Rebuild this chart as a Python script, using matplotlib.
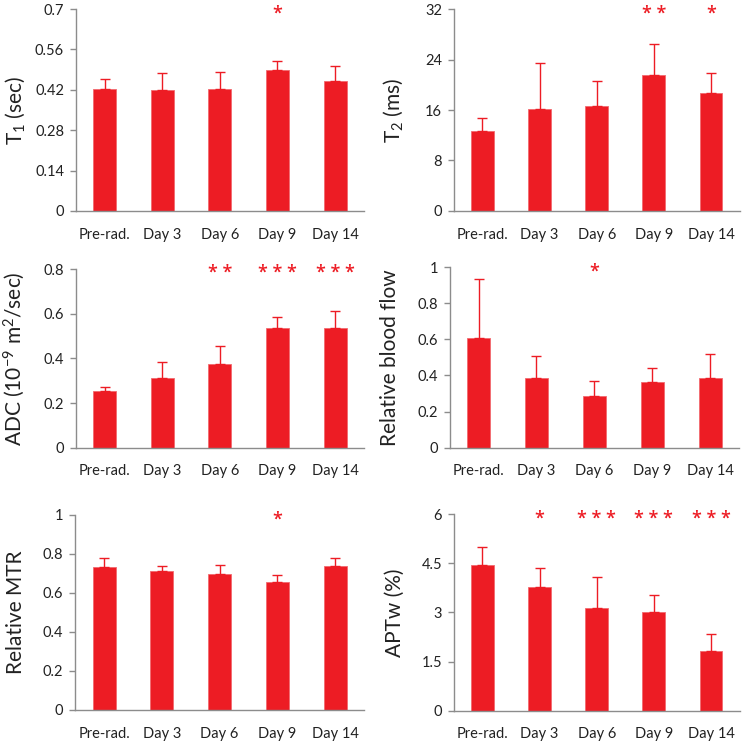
import matplotlib
matplotlib.use("Agg")
import matplotlib.pyplot as plt

plt.rcParams['font.family'] = ['Lato', 'DejaVu Sans']
plt.rcParams['mathtext.default'] = 'regular'

# --- data ---
days = ['Pre-rad.', 'Day 3', 'Day 6', 'Day 9', 'Day 14']

t1_mean = [0.423, 0.418, 0.424, 0.488, 0.449]
t1_err = [0.034, 0.060, 0.057, 0.032, 0.054]
t1_stars = ['', '', '', '*', '']

t2_mean = [12.7, 16.2, 16.6, 21.6, 18.7]
t2_err = [2.1, 7.3, 4.0, 4.9, 3.2]
t2_stars = ['', '', '', '* *', '*']

adc_mean = [0.254, 0.314, 0.375, 0.535, 0.535]
adc_err = [0.020, 0.072, 0.082, 0.051, 0.079]
adc_stars = ['', '', '* *', '* * *', '* * *']

flow_mean = [0.610, 0.386, 0.287, 0.364, 0.385]
flow_err = [0.325, 0.121, 0.084, 0.076, 0.133]
flow_stars = ['', '', '*', '', '']

mtr_mean = [0.734, 0.710, 0.696, 0.657, 0.737]
mtr_err = [0.043, 0.027, 0.046, 0.033, 0.040]
mtr_stars = ['', '', '', '*', '']

aptw_mean = [4.45, 3.78, 3.12, 3.00, 1.83]
aptw_err = [0.55, 0.57, 0.95, 0.54, 0.50]
aptw_stars = ['', '*', '* * *', '* * *', '* * *']

RED = '#ED1C24'
GREY = '#8C8C8C'

panels = [
    # mean, err, stars, ylabel, ymax, yticks, tick labels, axes rect
    (t1_mean, t1_err, t1_stars, 'T$_1$ (sec)', 0.7,
     [0, 0.14, 0.28, 0.42, 0.56, 0.7], ['0', '0.14', '0.28', '0.42', '0.56', '0.7'],
     [0.102, 0.7164, 0.387, 0.2715]),
    (t2_mean, t2_err, t2_stars, 'T$_2$ (ms)', 32,
     [0, 8, 16, 24, 32], ['0', '8', '16', '24', '32'],
     [0.610, 0.7164, 0.384, 0.2715]),
    (adc_mean, adc_err, adc_stars, 'ADC (10$^{-9}$ m$^2$/sec)', 0.8,
     [0, 0.2, 0.4, 0.6, 0.8], ['0', '0.2', '0.4', '0.6', '0.8'],
     [0.102, 0.3983, 0.387, 0.2398]),
    (flow_mean, flow_err, flow_stars, 'Relative blood flow', 1.0,
     [0, 0.2, 0.4, 0.6, 0.8, 1.0], ['0', '0.2', '0.4', '0.6', '0.8', '1'],
     [0.6044, 0.3983, 0.389, 0.2425]),
    (mtr_mean, mtr_err, mtr_stars, 'Relative MTR', 1.0,
     [0, 0.2, 0.4, 0.6, 0.8, 1.0], ['0', '0.2', '0.4', '0.6', '0.8', '1'],
     [0.1012, 0.0457, 0.388, 0.2625]),
    (aptw_mean, aptw_err, aptw_stars, 'APTw (%)', 6,
     [0, 1.5, 3, 4.5, 6], ['0', '1.5', '3', '4.5', '6'],
     [0.610, 0.0448, 0.384, 0.2643]),
]

fig = plt.figure(figsize=(7.44, 7.44), dpi=100, facecolor='w')

for mean, err, stars, ylab, ymax, yt, ytl, rect in panels:
    ax = fig.add_axes(rect)
    x = range(len(days))
    ax.bar(x, mean, width=0.4, color=RED, edgecolor='#F26A6F', linewidth=0.6, zorder=2)
    ax.errorbar(x, mean, yerr=[[0] * len(err), err], fmt='none', ecolor=RED,
                elinewidth=1.0, capsize=3.5, capthick=1.0, zorder=3)
    ax.set_xlim(-0.5, len(days) - 0.5)
    ax.set_ylim(0, ymax)
    ax.set_yticks(yt)
    ax.set_yticklabels(ytl)
    ax.set_xticks(list(x))
    ax.set_xticklabels(days)
    for s in ['top', 'right']:
        ax.spines[s].set_visible(False)
    for s in ['left', 'bottom']:
        ax.spines[s].set_color(GREY)
        ax.spines[s].set_linewidth(1.0)
    ax.tick_params(axis='y', direction='out', length=4.5, width=1.0, color=GREY,
                   labelsize=10.5, pad=4, labelcolor='#222222')
    ax.tick_params(axis='x', length=0, labelsize=10.5, pad=12, labelcolor='#222222')
    ax.set_ylabel(ylab, fontsize=15, color='#222222')
    ax.yaxis.set_label_coords(-0.17, 0.5)
    # significance marks
    for i, s in enumerate(stars):
        if s:
            ax.text(i, 0.95, s, transform=ax.get_xaxis_transform(), ha='center',
                    va='baseline', color=RED, fontsize=13, family='Open Sans',
                    fontweight='semibold')

fig.savefig('out.png', dpi=100)
